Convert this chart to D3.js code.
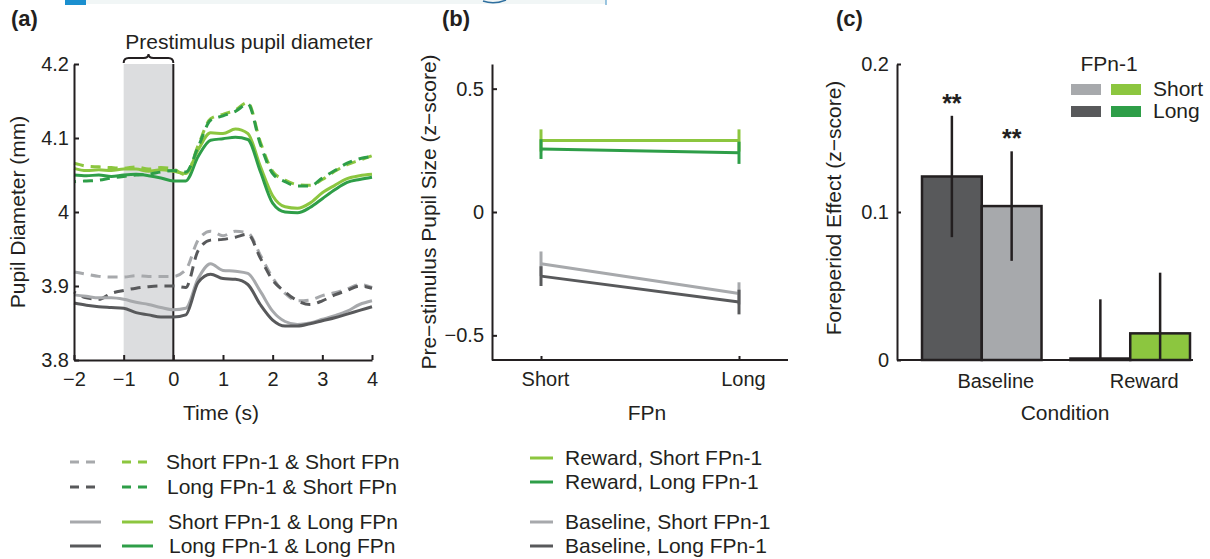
<!DOCTYPE html>
<html>
<head>
<meta charset="utf-8">
<script src="https://cdn.jsdelivr.net/npm/d3@7"></script>
<style>
  body { margin: 0; background: #fff; }
  text { font-family: "Liberation Sans", Arial, sans-serif; fill: #231f20; }
  .domain, .tick line { stroke: #231f20; stroke-width: 2; }
</style>
</head>
<body>
<div id="chart"></div>
<script>
const width = 1210
const height = 559

// colours
const lightGray = "#a7a9ac"
const darkGray = "#58595b"
const lightGreen = "#8cc63f"
const darkGreen = "#2e9e48"

// (a) time course, 0.25 s steps
const timePoints = [-2, -1.75, -1.5, -1.25, -1, -0.75, -0.5, -0.25, 0, 0.25, 0.5, 0.75, 1, 1.25, 1.5, 1.75, 2, 2.25, 2.5, 2.75, 3, 3.25, 3.5, 3.75, 4]
const rewShortShort = [4.066, 4.062, 4.061, 4.060, 4.059, 4.061, 4.058, 4.060, 4.058, 4.050, 4.090, 4.126, 4.132, 4.138, 4.148, 4.095, 4.055, 4.043, 4.037, 4.036, 4.044, 4.055, 4.064, 4.070, 4.076]
const rewLongShort = [4.041, 4.042, 4.043, 4.046, 4.048, 4.050, 4.051, 4.054, 4.056, 4.054, 4.088, 4.124, 4.130, 4.136, 4.146, 4.092, 4.052, 4.041, 4.035, 4.035, 4.046, 4.056, 4.066, 4.072, 4.075]
const rewShortLong = [4.059, 4.056, 4.057, 4.056, 4.058, 4.058, 4.055, 4.057, 4.055, 4.052, 4.084, 4.107, 4.106, 4.112, 4.106, 4.062, 4.022, 4.007, 4.005, 4.012, 4.026, 4.036, 4.045, 4.049, 4.051]
const rewLongLong = [4.050, 4.049, 4.050, 4.048, 4.050, 4.051, 4.049, 4.046, 4.042, 4.042, 4.075, 4.097, 4.099, 4.101, 4.098, 4.055, 4.012, 4.000, 3.999, 4.006, 4.018, 4.030, 4.040, 4.044, 4.047]
const baseShortShort = [3.919, 3.916, 3.913, 3.912, 3.912, 3.914, 3.913, 3.913, 3.913, 3.922, 3.962, 3.974, 3.968, 3.974, 3.972, 3.942, 3.911, 3.890, 3.880, 3.881, 3.887, 3.891, 3.896, 3.902, 3.898]
const baseLongShort = [3.892, 3.884, 3.882, 3.890, 3.894, 3.897, 3.899, 3.900, 3.900, 3.898, 3.948, 3.962, 3.963, 3.966, 3.970, 3.938, 3.908, 3.892, 3.880, 3.875, 3.880, 3.888, 3.894, 3.900, 3.897]
const baseShortLong = [3.888, 3.886, 3.884, 3.884, 3.882, 3.878, 3.875, 3.871, 3.868, 3.870, 3.910, 3.930, 3.921, 3.920, 3.917, 3.893, 3.866, 3.852, 3.848, 3.850, 3.855, 3.860, 3.866, 3.875, 3.880]
const baseLongLong = [3.877, 3.874, 3.872, 3.871, 3.870, 3.864, 3.861, 3.858, 3.858, 3.861, 3.905, 3.916, 3.910, 3.909, 3.902, 3.875, 3.854, 3.846, 3.846, 3.849, 3.853, 3.857, 3.862, 3.867, 3.872]
const timeTicks = [-2, -1, 0, 1, 2, 3, 4]
const pupilTicks = [3.8, 3.9, 4, 4.1, 4.2]

// (b) pre-stimulus pupil size
const fpnCategories = ["Short", "Long"]
const rewardShortMean = [0.29, 0.29]
const rewardShortErr = [0.045, 0.045]
const rewardLongMean = [0.255, 0.24]
const rewardLongErr = [0.04, 0.045]
const baselineShortMean = [-0.21, -0.33]
const baselineShortErr = [0.05, 0.045]
const baselineLongMean = [-0.26, -0.365]
const baselineLongErr = [0.04, 0.05]
const zTicks = [-0.5, 0, 0.5]

// (c) foreperiod effect
const conditions = ["Baseline", "Reward"]
const prevFP = ["Long", "Short"]
const effectLong = [0.124, 0.001]
const effectLongErr = [0.041, 0.04]
const effectShort = [0.104, 0.018]
const effectShortErr = [0.037, 0.041]
const significance = ["**", "**", "", ""]
const effectTicks = [0, 0.1, 0.2]

const fmtMinus = d => String(d).replace("-", "\u2212")
const labelSize = "21px"
const tickSize = "20px"

const svg = d3.select("#chart")
  .append("svg")
  .attr("width", width)
  .attr("height", height)

// bits of the page above that got into the crop
svg.append("rect").attr("x", 65).attr("y", 0).attr("width", 21).attr("height", 5).attr("fill", "#1b8fcf")
svg.append("rect").attr("x", 86).attr("y", 0).attr("width", 520).attr("height", 4).attr("fill", "#f1f6f6")
svg.append("line").attr("x1", 606).attr("x2", 606).attr("y1", 0).attr("y2", 5).attr("stroke", "#3b8ec4").attr("stroke-width", 1)
svg.append("path").attr("d", "M483,1 Q494,5 506,0").attr("fill", "none").attr("stroke", "#2f6f9f").attr("stroke-width", 1.5)

const panelLabel = (x, label) => svg.append("text")
  .attr("x", x).attr("y", 26)
  .attr("font-size", "22px").attr("font-weight", "bold")
  .text(label)

panelLabel(11, "(a)")
panelLabel(442, "(b)")
panelLabel(836, "(c)")

// ---------- (a) ----------
const xA = d3.scaleLinear().domain([-2, 4]).range([74, 372])
const yA = d3.scaleLinear().domain([3.8, 4.2]).range([360, 64])

const gA = svg.append("g")

gA.append("rect")
  .attr("x", xA(-1)).attr("y", yA(4.2))
  .attr("width", xA(0) - xA(-1)).attr("height", yA(3.8) - yA(4.2))
  .attr("fill", "#dcdddf")

gA.append("line")
  .attr("x1", xA(0)).attr("x2", xA(0))
  .attr("y1", yA(4.2)).attr("y2", yA(3.8))
  .attr("stroke", "#231f20").attr("stroke-width", 2)

const seriesA = [
  {vals: baseShortShort, color: lightGray, dash: "10,7", off: 0},
  {vals: baseLongShort, color: darkGray, dash: "10,7", off: 8},
  {vals: baseShortLong, color: lightGray, dash: null},
  {vals: baseLongLong, color: darkGray, dash: null},
  {vals: rewShortLong, color: lightGreen, dash: null},
  {vals: rewLongLong, color: darkGreen, dash: null},
  {vals: rewShortShort, color: lightGreen, dash: "10,7", off: 0},
  {vals: rewLongShort, color: darkGreen, dash: "10,7", off: 8}
]

const lineA = d3.line()
  .x((d, i) => xA(timePoints[i]))
  .y(d => yA(d))
  .curve(d3.curveMonotoneX)

gA.selectAll("path.trace")
  .data(seriesA)
  .join("path")
    .attr("class", "trace")
    .attr("d", d => lineA(d.vals))
    .attr("fill", "none")
    .attr("stroke", d => d.color)
    .attr("stroke-width", 3)
    .attr("stroke-dasharray", d => d.dash)
    .attr("stroke-dashoffset", d => d.off || 0)

gA.append("g")
  .attr("transform", `translate(0,${yA(3.8)})`)
  .call(d3.axisBottom(xA).tickValues(timeTicks).tickSizeInner(-5).tickSizeOuter(0).tickPadding(12).tickFormat(fmtMinus))
  .call(g => g.selectAll("text").attr("font-size", tickSize).attr("font-family", null))

gA.append("g")
  .attr("transform", `translate(${xA(-2)},0)`)
  .call(d3.axisLeft(yA).tickValues(pupilTicks).tickSizeInner(-5).tickSizeOuter(0).tickPadding(5).tickFormat(d3.format("~g")))
  .call(g => g.selectAll("text").attr("font-size", tickSize).attr("font-family", null))

gA.append("text")
  .attr("x", (xA(-2) + xA(4)) / 2 - 2).attr("y", 420)
  .attr("text-anchor", "middle").attr("font-size", labelSize)
  .text("Time (s)")

gA.append("text")
  .attr("transform", `translate(25,${yA(4)}) rotate(-90)`)
  .attr("text-anchor", "middle").attr("font-size", labelSize)
  .text("Pupil Diameter (mm)")

// brace over the prestimulus window
const bx0 = xA(-1), bx1 = xA(0), bm = (bx0 + bx1) / 2, by = 63
gA.append("path")
  .attr("d", `M${bx0},${by} Q${bx0},${by - 5} ${bx0 + 5},${by - 5} L${bm - 5},${by - 5} Q${bm},${by - 5} ${bm},${by - 9} Q${bm},${by - 5} ${bm + 5},${by - 5} L${bx1 - 5},${by - 5} Q${bx1},${by - 5} ${bx1},${by}`)
  .attr("fill", "none").attr("stroke", "#231f20").attr("stroke-width", 2)

gA.append("text")
  .attr("x", 249).attr("y", 49)
  .attr("text-anchor", "middle").attr("font-size", labelSize)
  .text("Prestimulus pupil diameter")

// legend (a)
const legendA = [
  {label: "Short FPn-1 & Short FPn", c1: lightGray, c2: lightGreen, dash: "9,7", y: 462},
  {label: "Long FPn-1 & Short FPn", c1: darkGray, c2: darkGreen, dash: "9,7", y: 487},
  {label: "Short FPn-1 & Long FPn", c1: lightGray, c2: lightGreen, dash: null, y: 522},
  {label: "Long FPn-1 & Long FPn", c1: darkGray, c2: darkGreen, dash: null, y: 546}
]
const legA = svg.append("g").selectAll("g").data(legendA).join("g")
legA.append("line").attr("x1", 70).attr("x2", 101).attr("y1", d => d.y).attr("y2", d => d.y)
  .attr("stroke", d => d.c1).attr("stroke-width", 3).attr("stroke-dasharray", d => d.dash)
legA.append("line").attr("x1", 122).attr("x2", 153).attr("y1", d => d.y).attr("y2", d => d.y)
  .attr("stroke", d => d.c2).attr("stroke-width", 3).attr("stroke-dasharray", d => d.dash)
legA.append("text").attr("x", (d, i) => 166 + i).attr("y", d => d.y + 7)
  .attr("font-size", labelSize).text(d => d.label)

// ---------- (b) ----------
const xB = d3.scalePoint().domain(fpnCategories).range([541, 739])
const yB = d3.scaleLinear().domain([-0.6, 0.6]).range([360, 64])

const gB = svg.append("g")

const seriesB = [
  {mean: baselineShortMean, err: baselineShortErr, color: lightGray},
  {mean: baselineLongMean, err: baselineLongErr, color: darkGray},
  {mean: rewardShortMean, err: rewardShortErr, color: lightGreen},
  {mean: rewardLongMean, err: rewardLongErr, color: darkGreen}
]

const lineB = d3.line()
  .x((d, i) => xB(fpnCategories[i]))
  .y(d => yB(d))

const sB = gB.selectAll("g.series").data(seriesB).join("g").attr("class", "series")
sB.append("path")
  .attr("d", d => lineB(d.mean))
  .attr("fill", "none").attr("stroke", d => d.color).attr("stroke-width", 3)
sB.selectAll("line.err")
  .data(d => d.mean.map((m, i) => ({m, e: d.err[i], cat: fpnCategories[i], color: d.color})))
  .join("line")
    .attr("class", "err")
    .attr("x1", d => xB(d.cat)).attr("x2", d => xB(d.cat))
    .attr("y1", d => yB(d.m - d.e)).attr("y2", d => yB(d.m + d.e))
    .attr("stroke", d => d.color).attr("stroke-width", 3)

gB.append("g")
  .attr("transform", `translate(0,${yB(-0.6)})`)
  .call(d3.axisBottom(xB).tickSizeInner(-4).tickSizeOuter(0).tickPadding(12))
  .call(g => g.select(".domain").attr("d", "M492,0H788"))
  .call(g => g.selectAll("text").attr("font-size", tickSize).attr("font-family", null).attr("dx", 4))

gB.append("g")
  .attr("transform", "translate(492,0)")
  .call(d3.axisLeft(yB).tickValues(zTicks).tickSizeInner(-5).tickSizeOuter(0).tickPadding(8).tickFormat(fmtMinus))
  .call(g => g.selectAll("text").attr("font-size", tickSize).attr("font-family", null))

gB.append("text")
  .attr("x", 647).attr("y", 420)
  .attr("text-anchor", "middle").attr("font-size", labelSize)
  .text("FPn")

gB.append("text")
  .attr("transform", `translate(436,${yB(0)}) rotate(-90)`)
  .attr("text-anchor", "middle").attr("font-size", labelSize)
  .text("Pre\u2212stimulus Pupil Size (z\u2212score)")

// legend (b)
const legendB = [
  {label: "Reward, Short FPn-1", color: lightGreen, y: 458},
  {label: "Reward, Long FPn-1", color: darkGreen, y: 482},
  {label: "Baseline, Short FPn-1", color: lightGray, y: 522},
  {label: "Baseline, Long FPn-1", color: darkGray, y: 546}
]
const legB = svg.append("g").selectAll("g").data(legendB).join("g")
legB.append("line").attr("x1", 530).attr("x2", 553).attr("y1", d => d.y).attr("y2", d => d.y)
  .attr("stroke", d => d.color).attr("stroke-width", 3)
legB.append("text").attr("x", 565).attr("y", d => d.y + 7)
  .attr("font-size", labelSize).text(d => d.label)

// ---------- (c) ----------
const yC = d3.scaleLinear().domain([0, 0.2]).range([360, 64])
const x0C = d3.scaleBand().domain(conditions).range([922, 1190]).paddingInner(0.195).paddingOuter(0)
const x1C = d3.scaleBand().domain(prevFP).range([0, x0C.bandwidth()])

const barColors = {
  Baseline: {Long: darkGray, Short: lightGray},
  Reward: {Long: darkGreen, Short: lightGreen}
}

const bars = []
conditions.forEach((c, i) => {
  bars.push({cond: c, fp: "Long", v: effectLong[i], e: effectLongErr[i]})
  bars.push({cond: c, fp: "Short", v: effectShort[i], e: effectShortErr[i]})
})

const gC = svg.append("g")

gC.selectAll("rect.bar")
  .data(bars)
  .join("rect")
    .attr("class", "bar")
    .attr("x", d => x0C(d.cond) + x1C(d.fp))
    .attr("y", d => yC(d.v))
    .attr("width", x1C.bandwidth())
    .attr("height", d => yC(0) - yC(d.v))
    .attr("fill", d => barColors[d.cond][d.fp])
    .attr("stroke", "#231f20").attr("stroke-width", 2.5)

gC.selectAll("line.err")
  .data(bars)
  .join("line")
    .attr("class", "err")
    .attr("x1", d => x0C(d.cond) + x1C(d.fp) + x1C.bandwidth() / 2)
    .attr("x2", d => x0C(d.cond) + x1C(d.fp) + x1C.bandwidth() / 2)
    .attr("y1", d => yC(Math.max(0, d.v - d.e)))
    .attr("y2", d => yC(d.v + d.e))
    .attr("stroke", "#231f20").attr("stroke-width", 2.5)

gC.selectAll("text.sig")
  .data(bars)
  .join("text")
    .attr("class", "sig")
    .attr("x", d => x0C(d.cond) + x1C(d.fp) + x1C.bandwidth() / 2)
    .attr("y", d => yC(d.v + d.e) - 4)
    .attr("text-anchor", "middle").attr("font-size", "25px").attr("font-weight", "bold")
    .text((d, i) => significance[i])

gC.append("g")
  .attr("transform", `translate(0,${yC(0)})`)
  .call(d3.axisBottom(x0C).tickSize(0).tickPadding(14))
  .call(g => g.select(".domain").attr("d", "M897,0H1193"))
  .call(g => g.selectAll("text").attr("font-size", tickSize).attr("font-family", null).attr("dx", 14))

gC.append("g")
  .attr("transform", "translate(897,0)")
  .call(d3.axisLeft(yC).tickValues(effectTicks).tickSizeInner(-4).tickSizeOuter(0).tickPadding(8).tickFormat(d3.format("~g")))
  .call(g => g.selectAll("text").attr("font-size", tickSize).attr("font-family", null))

gC.append("text")
  .attr("x", 1065).attr("y", 420)
  .attr("text-anchor", "middle").attr("font-size", labelSize)
  .text("Condition")

gC.append("text")
  .attr("transform", `translate(841,${yC(0.1) - 4}) rotate(-90)`)
  .attr("text-anchor", "middle").attr("font-size", labelSize)
  .text("Foreperiod Effect (z\u2212score)")

// legend (c)
const legC = svg.append("g")
legC.append("text").attr("x", 1109).attr("y", 71).attr("text-anchor", "middle").attr("font-size", labelSize).text("FPn-1")
const legendC = [
  {label: "Short", gray: lightGray, green: lightGreen, y: 84},
  {label: "Long", gray: darkGray, green: darkGreen, y: 106}
]
const rowC = legC.selectAll("g").data(legendC).join("g")
rowC.append("rect").attr("x", 1071).attr("y", d => d.y).attr("width", 30).attr("height", 11).attr("fill", d => d.gray)
rowC.append("rect").attr("x", 1111).attr("y", d => d.y).attr("width", 30).attr("height", 11).attr("fill", d => d.green)
rowC.append("text").attr("x", 1153).attr("y", d => d.y + 12).attr("font-size", labelSize).text(d => d.label)
</script>
</body>
</html>
